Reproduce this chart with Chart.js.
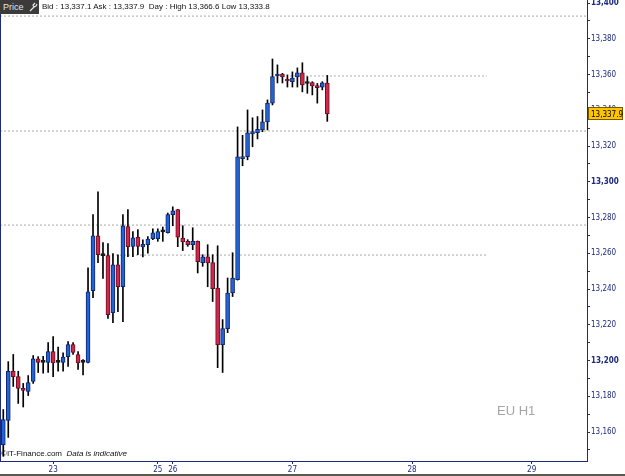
<!DOCTYPE html>
<html>
<head>
<meta charset="utf-8">
<script src="https://cdn.jsdelivr.net/npm/chart.js@4"></script>
<style>
body { margin: 0; background: #fff; }
#wrap { position: relative; width: 625px; height: 476px; overflow: hidden; font-family: 'Liberation Sans', Arial, sans-serif; }
#chart { position: absolute; left: 0; top: 0; }
#price { position: absolute; left: 0; top: 0; width: 39px; height: 14px; background: #3b3b3b; color: #e6e6e6; font-size: 9px; line-height: 14px; padding-left: 3px; box-sizing: border-box; }
#price svg { position: absolute; left: 29px; top: 2px; }
#info { position: absolute; left: 42px; top: 1px; font-size: 8px; line-height: 12px; color: #111; white-space: pre; }
#eu { position: absolute; left: 497px; top: 403px; font-size: 13px; color: #a5a5a5; }
#copy { position: absolute; left: 1px; top: 449px; font-size: 8px; line-height: 10px; color: #111; white-space: pre; }
#copy i { font-style: italic; }
#bottom { position: absolute; left: 0; top: 474px; width: 625px; height: 2px; background: #5b584c; }
</style>
</head>
<body>
<div id="wrap">
    <canvas id="chart" width="625" height="476"></canvas>
    <div id="price">Price<svg width="9" height="10" viewBox="0 0 9 10"><path d="M6 1 L4 3 L5 5 L7 4 L8 2 M5 5 L1 9" stroke="#e6e6e6" stroke-width="1.2" fill="none"/></svg></div>
    <div id="info">Bid : 13,337.1 Ask : 13,337.9  Day : High 13,366.6 Low 13,333.8</div>
    <div id="eu">EU H1</div>
    <div id="copy">©IT-Finance.com  <i>Data is indicative</i></div>
    <div id="bottom"></div>
</div>
<script>
// hourly candles, oldest first
var opens = [13153, 13166.5, 13193.9, 13191, 13184.4, 13182.7, 13188.3, 13201, 13199, 13198.9,
    13205, 13199, 13199, 13202.2, 13208.9, 13203.4, 13199, 13198.9, 13239.1, 13269.8,
    13258.7, 13258.7, 13226.8, 13253.6, 13241.3, 13274.9, 13263.9, 13268.9, 13263.6, 13264.8,
    13268.2, 13268.2, 13272, 13271.5, 13281.6, 13284.4, 13268.5, 13266.7, 13264.8, 13266.7,
    13254.8, 13258, 13254.8, 13240.6, 13208.9, 13217.9, 13237.8, 13245.3, 13313, 13314,
    13326.8, 13327.5, 13329, 13333.5, 13344, 13359.2, 13360.3, 13357.5, 13356, 13358.7,
    13361, 13355, 13355.5, 13353.6, 13353, 13355.2];
var highs = [13172.6, 13199.4, 13203.4, 13194, 13187.2, 13191.6, 13202.8, 13202.2, 13202.4, 13210,
    13213.4, 13207.6, 13204.3, 13210.6, 13210, 13205, 13200.6, 13251.8, 13281.6, 13294.4,
    13266, 13265.4, 13259.8, 13259.2, 13281.6, 13284.4, 13272.2, 13273.2, 13267.6, 13269.4,
    13273.7, 13273.7, 13274.7, 13282.5, 13286, 13284.6, 13275.4, 13267.6, 13274.3, 13266.9,
    13259.2, 13264.8, 13259.2, 13264.2, 13222.9, 13246.2, 13260.3, 13330.7, 13326, 13340.2,
    13335.8, 13336.5, 13340.2, 13345.8, 13368.7, 13365.4, 13360.7, 13359.8, 13361.5, 13363.7,
    13366.6, 13358.8, 13356, 13355, 13356, 13359.5];
var lows = [13146.4, 13157, 13185.5, 13176, 13174, 13180.4, 13187.2, 13193.3, 13193, 13193.3,
    13191, 13194, 13194, 13196.7, 13203.4, 13195, 13192, 13198.7, 13235.2, 13254.7,
    13246, 13223.5, 13221.2, 13227.4, 13221.8, 13258.1, 13258.1, 13259.2, 13258, 13260,
    13267.6, 13266.7, 13266.7, 13271.3, 13275.4, 13263.7, 13261.5, 13263.9, 13262, 13249,
    13252.7, 13241.3, 13233, 13196, 13193.3, 13215.6, 13235.8, 13245, 13309, 13312.3,
    13319.6, 13324, 13328, 13329, 13343, 13355.3, 13355.3, 13353, 13353, 13353,
    13350.3, 13349.5, 13348.6, 13344, 13351.4, 13333.8];
var closes = [13167, 13193.9, 13191, 13184.4, 13183.3, 13187.7, 13201, 13198.9, 13199, 13205,
    13198.7, 13199, 13202, 13208.9, 13204.5, 13198.7, 13199, 13238.5, 13269.8, 13259.2,
    13258.7, 13225.7, 13253.6, 13241.3, 13275.4, 13263.7, 13268.6, 13263.9, 13265, 13268,
    13271.5, 13272.2, 13272, 13281.6, 13283.8, 13269, 13266.3, 13264.8, 13266.7, 13255.3,
    13258, 13254.6, 13240.2, 13208.9, 13217.9, 13237.8, 13246.2, 13314, 13314, 13327.4,
    13328.1, 13329.4, 13333.5, 13344, 13358.8, 13360.3, 13358.7, 13356.4, 13358, 13361,
    13354.2, 13355, 13353.6, 13352.7, 13355.3, 13337.9];

// day labels sit on the first bar of each day
var dayTicks = [10, 31, 34, 58, 82, 106];
var dayLabels = ['23', '25', '26', '27', '28', '29'];

// dotted levels drawn on the chart
var levelValues = [13392.7, 13359.2, 13328.4, 13275.8, 13259.0];
var levelFrom = [-0.66, 57.5, -0.66, -0.66, 19.4];
var levelTo = [117.1, 97, 117.1, 117.1, 97];

var upColor = '#2463d6';
var upBorder = '#0d2670';
var downColor = '#d0284a';
var downBorder = '#6a1020';
var navy = '#1c2a80';
var axisFont = "'Liberation Sans Narrow', 'DejaVu Sans Condensed', Arial, sans-serif";

var bodies = [];
var wicks = [];
var fills = [];
var borders = [];
for (var i = 0; i < opens.length; i++) {
    bodies.push({ x: i, y: [opens[i], closes[i]] });
    wicks.push({ x: i, y: [lows[i], highs[i]] });
    if (closes[i] > opens[i]) {
        fills.push(upColor);
        borders.push(upBorder);
    } else if (closes[i] < opens[i]) {
        fills.push(downColor);
        borders.push(downBorder);
    } else {
        fills.push('#1a1a1a');
        borders.push('#1a1a1a');
    }
}

var datasets = [
    {
        type: 'bar',
        data: bodies,
        backgroundColor: fills,
        borderColor: borders,
        borderWidth: 1,
        borderSkipped: false,
        barThickness: 4,
        minBarLength: 2,
        grouped: false,
        order: 0
    },
    {
        type: 'bar',
        data: wicks,
        backgroundColor: '#000',
        borderWidth: 0,
        barThickness: 1,
        grouped: false,
        order: 1
    }
];

for (var k = 0; k < levelValues.length; k++) {
    datasets.push({
        type: 'line',
        data: [{ x: levelFrom[k], y: levelValues[k] }, { x: levelTo[k], y: levelValues[k] }],
        borderColor: '#a9a9a9',
        borderWidth: 1,
        borderDash: [2, 2],
        pointRadius: 0,
        order: 2
    });
}

var extras = {
    id: 'extras',
    afterDraw: function (chart) {
        var ctx = chart.ctx;
        var a = chart.chartArea;
        ctx.save();
        ctx.strokeStyle = navy;
        ctx.lineWidth = 1;
        ctx.beginPath();
        ctx.moveTo(0.5, 0);
        ctx.lineTo(0.5, a.bottom);
        ctx.stroke();

        var last = closes[closes.length - 1];
        var py = Math.round(chart.scales.y.getPixelForValue(last));
        ctx.fillStyle = '#ffc400';
        ctx.fillRect(a.right + 1, py - 7, 35, 13);
        ctx.strokeStyle = '#7a5a00';
        ctx.strokeRect(a.right + 1.5, py - 6.5, 34, 12);
        ctx.fillStyle = '#000';
        ctx.font = '8px ' + axisFont;
        ctx.textBaseline = 'middle';
        ctx.fillText(last.toLocaleString('en-US', { minimumFractionDigits: 1 }), a.right + 4, py + 0.5);
        ctx.restore();
    }
};

new Chart(document.getElementById('chart').getContext('2d'), {
    type: 'bar',
    data: { datasets: datasets },
    plugins: [extras],
    options: {
        responsive: false,
        animation: false,
        layout: { padding: 0 },
        plugins: {
            legend: { display: false },
            tooltip: { enabled: false }
        },
        scales: {
            x: {
                type: 'linear',
                position: 'bottom',
                min: -0.66,
                max: 117.1,
                offset: false,
                grid: { display: true, offset: false, drawOnChartArea: false, drawTicks: true, tickLength: 3, color: navy },
                border: { display: true, color: navy },
                afterBuildTicks: function (scale) {
                    scale.ticks = dayTicks.map(function (v) { return { value: v }; });
                },
                afterFit: function (scale) {
                    scale.height = 15;
                    scale.paddingLeft = 0;
                    scale.paddingRight = 0;
                },
                ticks: {
                    autoSkip: false,
                    maxRotation: 0,
                    padding: 1,
                    color: navy,
                    font: { size: 8, family: axisFont },
                    callback: function (v) {
                        var idx = dayTicks.indexOf(v);
                        return idx >= 0 ? dayLabels[idx] : '';
                    }
                }
            },
            y: {
                type: 'linear',
                position: 'right',
                min: 13143.8,
                max: 13401.7,
                grid: { display: true, drawOnChartArea: false, drawTicks: true, tickLength: 3, color: navy },
                border: { display: true, color: navy },
                afterBuildTicks: function (scale) {
                    var t = [];
                    for (var v = 13150; v <= 13400; v += 10) {
                        t.push({ value: v });
                    }
                    scale.ticks = t;
                },
                afterFit: function (scale) {
                    scale.width = 38;
                    scale.paddingTop = 0;
                    scale.paddingBottom = 0;
                },
                ticks: {
                    padding: 1,
                    color: navy,
                    font: function (c) {
                        var bold = c.tick && c.tick.value % 100 === 0;
                        return { size: 8, family: axisFont, weight: bold ? 'bold' : 'normal' };
                    },
                    callback: function (v) {
                        return v % 20 === 0 ? v.toLocaleString('en-US') : '';
                    }
                }
            }
        }
    }
});
</script>
</body>
</html>
